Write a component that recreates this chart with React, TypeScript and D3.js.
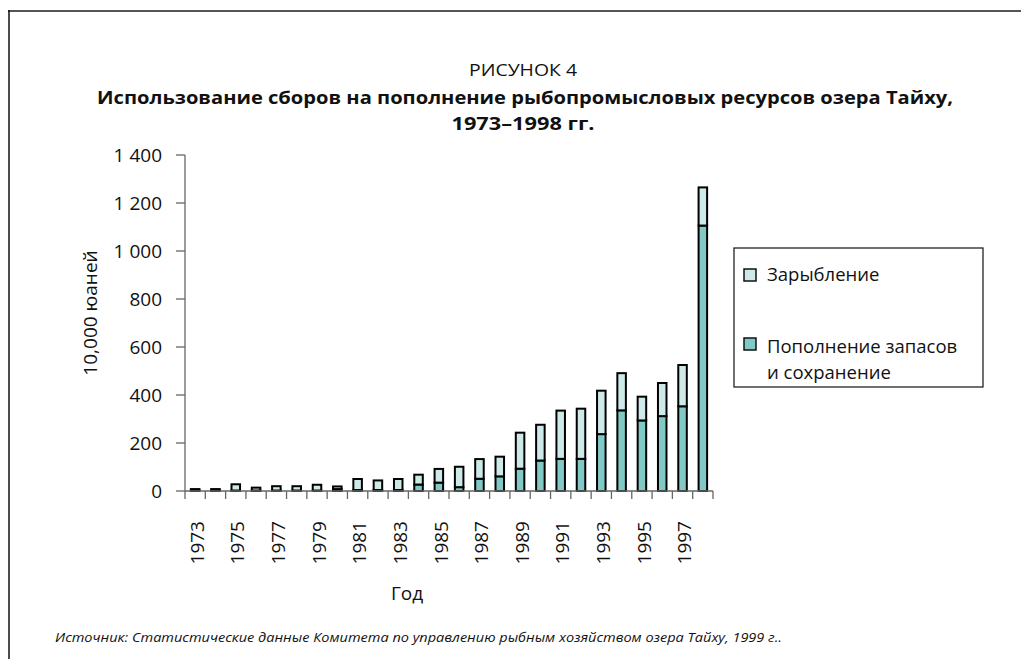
import React from "react";
import * as d3 from "d3";

const years = ["1973","1974","1975","1976","1977","1978","1979","1980","1981","1982","1983","1984","1985","1986","1987","1988","1989","1990","1991","1992","1993","1994","1995","1996","1997","1998"];
// Пополнение запасов и сохранение (dark, bottom)
const restocking = [4,4,2,2,2,2,2,8,4,4,4,27,35,16,51,61,93,127,134,134,237,336,294,312,353,1106];
// Зарыбление (light, top)
const fryRelease = [4,4,26,12,18,18,24,11,46,40,46,41,57,85,82,82,150,149,201,209,181,155,99,138,172,159];
const yTicks = [0,200,400,600,800,1000,1200,1400];
const yTickLabels = ["0","200","400","600","800","1 000","1 200","1 400"];
const labeledYears = ["1973","1975","1977","1979","1981","1983","1985","1987","1989","1991","1993","1995","1997"];

const seriesNames = ["Зарыбление", "Пополнение запасов"];
const seriesNames2 = "и сохранение";
const colors = { light: "#cdeae9", dark: "#80c9c5" };

const FONT = "'Open Sans', 'Noto Sans', sans-serif";

export default function App() {
  const W = 1021, H = 659;
  const x = d3.scaleBand<string>().domain(years).range([185, 713]).padding(0);
  const y = d3.scaleLinear().domain([0, 1400]).range([491, 155]);
  const bw = x.bandwidth() * 0.42;

  const rows = years.map((yr, i) => ({ yr, dark: restocking[i], light: fryRelease[i] }));
  const stack = d3.stack<any>().keys(["dark", "light"])(rows as any);

  const boundaries = d3.range(years.length + 1).map((i) => 185 + i * x.step());

  return (
    <svg width={W} height={H} style={{ position: "absolute", left: 0, top: 0, background: "#fff" }} fontFamily={FONT}>
      <rect x={0} y={0} width={W} height={H} fill="#fff" />
      {/* frame */}
      <line x1={8} x2={W} y1={11} y2={11} stroke="#555" strokeWidth={2} />
      <line x1={9} x2={9} y1={10} y2={H} stroke="#111" strokeWidth={1.5} />

      {/* titles */}
      <text x={523} y={76} textAnchor="middle" fontSize={17} fill="#111" textLength={108} lengthAdjust="spacingAndGlyphs">РИСУНОК 4</text>
      <text x={525} y={104} textAnchor="middle" fontSize={18.5} fontWeight={700} fill="#111" textLength={856} lengthAdjust="spacingAndGlyphs">
        Использование сборов на пополнение рыбопромысловых ресурсов озера Тайху,
      </text>
      <text x={523} y={130} textAnchor="middle" fontSize={18.5} fontWeight={700} fill="#111" textLength={143} lengthAdjust="spacingAndGlyphs">1973–1998 гг.</text>

      {/* bars */}
      {stack.map((s, si) => (
        <g key={si}>
          {s.map((d: any, i: number) => (
            <rect
              key={i}
              x={(x(years[i]) as number) + (x.bandwidth() - bw) / 2}
              y={y(d[1])}
              width={bw}
              height={Math.max(0, y(d[0]) - y(d[1]))}
              fill={si === 0 ? colors.dark : colors.light}
              stroke="#000"
              strokeWidth={2}
            />
          ))}
        </g>
      ))}

      {/* y axis */}
      <line x1={185} x2={185} y1={y(1400)} y2={y(0)} stroke="#666" strokeWidth={1.3} />
      {yTicks.map((t, i) => (
        <g key={t}>
          <line x1={176} x2={185} y1={y(t)} y2={y(t)} stroke="#666" strokeWidth={1.3} />
          <text x={162} y={y(t)} dy="0.35em" textAnchor="end" fontSize={19} fill="#111">{yTickLabels[i]}</text>
        </g>
      ))}
      <text transform={`translate(97,313) rotate(-90)`} textAnchor="middle" fontSize={19} fill="#111">10,000 юаней</text>

      {/* x axis */}
      <line x1={185} x2={713} y1={y(0)} y2={y(0)} stroke="#666" strokeWidth={1.3} />
      {boundaries.map((b, i) => (
        <line key={i} x1={b} x2={b} y1={y(0)} y2={y(0) + 8} stroke="#666" strokeWidth={1.3} />
      ))}
      {labeledYears.map((yr) => (
        <text key={yr} transform={`translate(${(x(yr) as number) + x.bandwidth() / 2 + 2},521) rotate(-90)`} textAnchor="end" dy="0.35em" fontSize={19} fill="#111">{yr}</text>
      ))}
      <text x={407} y={600} textAnchor="middle" fontSize={19} fill="#111">Год</text>

      {/* legend */}
      <rect x={734} y={248} width={249} height={139} fill="#fff" stroke="#111" strokeWidth={1.2} />
      <rect x={744} y={269} width={12} height={12} fill={colors.light} stroke="#111" strokeWidth={1.5} />
      <text x={767} y={281} fontSize={18.5} fill="#111">{seriesNames[0]}</text>
      <rect x={744} y={338} width={12} height={12} fill={colors.dark} stroke="#111" strokeWidth={1.5} />
      <text x={767} y={353} fontSize={18.5} fill="#111">{seriesNames[1]}</text>
      <text x={767} y={379} fontSize={18.5} fill="#111">{seriesNames2}</text>

      {/* source */}
      <text x={55} y={642} fontSize={13} fontStyle="italic" fill="#111" textLength={727} lengthAdjust="spacingAndGlyphs">
        Источник: Статистические данные Комитета по управлению рыбным хозяйством озера Тайху, 1999 г..
      </text>
    </svg>
  );
}
